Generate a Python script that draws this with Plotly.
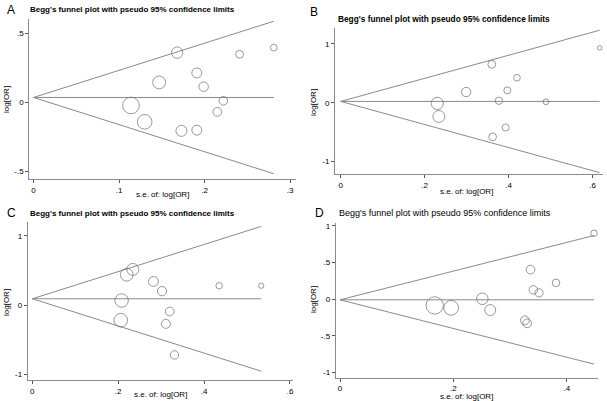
import plotly.graph_objects as go

W, H = 607, 401

# ---------------- data ----------------
# Panel A
a_se = [0.168, 0.241, 0.281, 0.147, 0.191, 0.199, 0.222, 0.215, 0.114, 0.130, 0.173, 0.191]
a_lor = [0.360, 0.348, 0.396, 0.145, 0.213, 0.114, 0.012, -0.068, -0.022, -0.140, -0.205, -0.200]
a_theta = 0.036
a_xticks = [0, 0.1, 0.2, 0.3]
a_xlabels = ["0", ".1", ".2", ".3"]
a_yticks = [-0.5, 0, 0.5]
a_ylabels = ["-.5", "0", ".5"]

# Panel B
b_se = [0.360, 0.420, 0.397, 0.299, 0.377, 0.489, 0.230, 0.234, 0.393, 0.362, 0.617]
b_lor = [0.653, 0.426, 0.210, 0.182, 0.034, 0.017, -0.011, -0.233, -0.420, -0.580, 0.932]
b_theta = 0.023
b_xticks = [0, 0.2, 0.4, 0.6]
b_xlabels = ["0", ".2", ".4", ".6"]
b_yticks = [-1, 0, 1]
b_ylabels = ["-1", "0", "1"]

# Panel C
c_se = [0.234, 0.220, 0.282, 0.302, 0.435, 0.533, 0.208, 0.320, 0.311, 0.206, 0.331]
c_lor = [0.516, 0.439, 0.342, 0.202, 0.280, 0.280, 0.067, -0.092, -0.270, -0.217, -0.718]
c_theta = 0.092
c_xticks = [0, 0.2, 0.4, 0.6]
c_xlabels = ["0", ".2", ".4", ".6"]
c_yticks = [-1, 0, 1]
c_ylabels = ["-1", "0", "1"]

# Panel D
d_se = [0.448, 0.336, 0.381, 0.341, 0.351, 0.251, 0.265, 0.167, 0.196, 0.326, 0.330]
d_lor = [0.900, 0.403, 0.222, 0.127, 0.086, 0.005, -0.149, -0.086, -0.118, -0.290, -0.330]
d_theta = -0.009
d_xticks = [0, 0.2, 0.4]
d_xlabels = ["0", ".2", ".4"]
d_yticks = [-1, -0.5, 0, 0.5, 1]
d_ylabels = ["-1", "-.5", "0", ".5", "1"]

panel_letters = ["A", "B", "C", "D"]
title_text = "Begg's funnel plot with pseudo 95% confidence limits"
x_title = "s.e. of: log[OR]"
y_title = "log[OR]"

# ---------------- layout (pixel geometry) ----------------
panels = [
    dict(se=a_se, lor=a_lor, theta=a_theta, xt=a_xticks, xl=a_xlabels, yt=a_yticks, yl=a_ylabels,
         box=(29.3, 296, 19, 179), xr=[-0.0049, 0.307], yr=[-0.553, 0.603], k=0.95,
         letter=(5, 10), title=(28, 9), tsize=8, tbold=True, xtitle=(162, 194), ytitle=(6, 100)),
    dict(se=b_se, lor=b_lor, theta=b_theta, xt=b_xticks, xl=b_xlabels, yt=b_yticks, yl=b_ylabels,
         box=(335, 603, 28, 174), xr=[-0.0136, 0.625], yr=[-1.21, 1.27], k=1.4,
         letter=(308, 12), title=(336, 19), tsize=8.3, tbold=True, xtitle=(466, 192), ytitle=(313, 103)),
    dict(se=c_se, lor=c_lor, theta=c_theta, xt=c_xticks, xl=c_xlabels, yt=c_yticks, yl=c_ylabels,
         box=(27.7, 293, 222, 380), xr=[-0.0107, 0.607], yr=[-1.08, 1.2], k=1.4,
         letter=(5, 213), title=(28, 214), tsize=8, tbold=True, xtitle=(160, 394), ytitle=(6, 303)),
    dict(se=d_se, lor=d_lor, theta=d_theta, xt=d_xticks, xl=d_xlabels, yt=d_yticks, yl=d_ylabels,
         box=(335.7, 598, 223, 377.5), xr=[-0.0076, 0.455], yr=[-1.07, 1.04], k=1.45,
         letter=(313, 213), title=(337, 213), tsize=9, tbold=False, xtitle=(467, 396.5), ytitle=(313, 300)),
]

FONT = "Liberation Sans"
GRAY = "#8a8a8a"
fig = go.Figure()
layout = dict(width=W, height=H, margin=dict(l=0, r=0, t=0, b=0),
              paper_bgcolor="white", plot_bgcolor="white", showlegend=False,
              font=dict(family=FONT, size=8, color="black"))
annotations = []

for i, p in enumerate(panels):
    n = "" if i == 0 else str(i + 1)
    xa, ya = "x" + n, "y" + n
    l, r, t, b = p["box"]
    smax = max(p["se"])
    th = p["theta"]
    for sign in (1, -1, 0):
        fig.add_trace(go.Scatter(x=[0, smax], y=[th, th + sign * 1.96 * smax], mode="lines",
                                 line=dict(color=GRAY, width=1), xaxis=xa, yaxis=ya, hoverinfo="skip"))
    sizes = [2 * p["k"] / s for s in p["se"]]
    fig.add_trace(go.Scatter(x=p["se"], y=p["lor"], mode="markers",
                             marker=dict(symbol="circle-open", size=sizes, color="#6e6e6e",
                                         line=dict(width=1, color="#6e6e6e")),
                             xaxis=xa, yaxis=ya))
    axis_common = dict(showgrid=False, zeroline=False, showline=True, linecolor=GRAY, linewidth=1,
                       ticks="outside", ticklen=3, tickcolor="#555555", tickwidth=1,
                       tickfont=dict(family=FONT, size=8, color="black"))
    layout["xaxis" + n] = dict(domain=[l / W, r / W], range=p["xr"], anchor=ya,
                               tickvals=p["xt"], ticktext=p["xl"], **axis_common)
    layout["yaxis" + n] = dict(domain=[1 - b / H, 1 - t / H], range=p["yr"], anchor=xa,
                               tickvals=p["yt"], ticktext=p["yl"], **axis_common)
    lx, ly = p["letter"]
    annotations.append(dict(text=panel_letters[i], x=lx / W, y=1 - ly / H, xref="paper", yref="paper",
                            xanchor="left", yanchor="middle", showarrow=False,
                            font=dict(family=FONT, size=12, color="black")))
    tx, ty = p["title"]
    ttxt = "<b>" + title_text + "</b>" if p["tbold"] else title_text
    annotations.append(dict(text=ttxt, x=tx / W, y=1 - ty / H, xref="paper",
                            yref="paper", xanchor="left", yanchor="middle", showarrow=False,
                            font=dict(family=FONT, size=p["tsize"], color="black")))
    xx, xy = p["xtitle"]
    annotations.append(dict(text=x_title, x=xx / W, y=1 - xy / H, xref="paper", yref="paper",
                            xanchor="center", yanchor="middle", showarrow=False,
                            font=dict(family=FONT, size=8, color="black")))
    yx, yy = p["ytitle"]
    annotations.append(dict(text=y_title, x=yx / W, y=1 - yy / H, xref="paper", yref="paper",
                            xanchor="center", yanchor="middle", showarrow=False, textangle=-90,
                            font=dict(family=FONT, size=8, color="black")))

layout["annotations"] = annotations
fig.update_layout(**layout)
fig.write_html("out.html")
